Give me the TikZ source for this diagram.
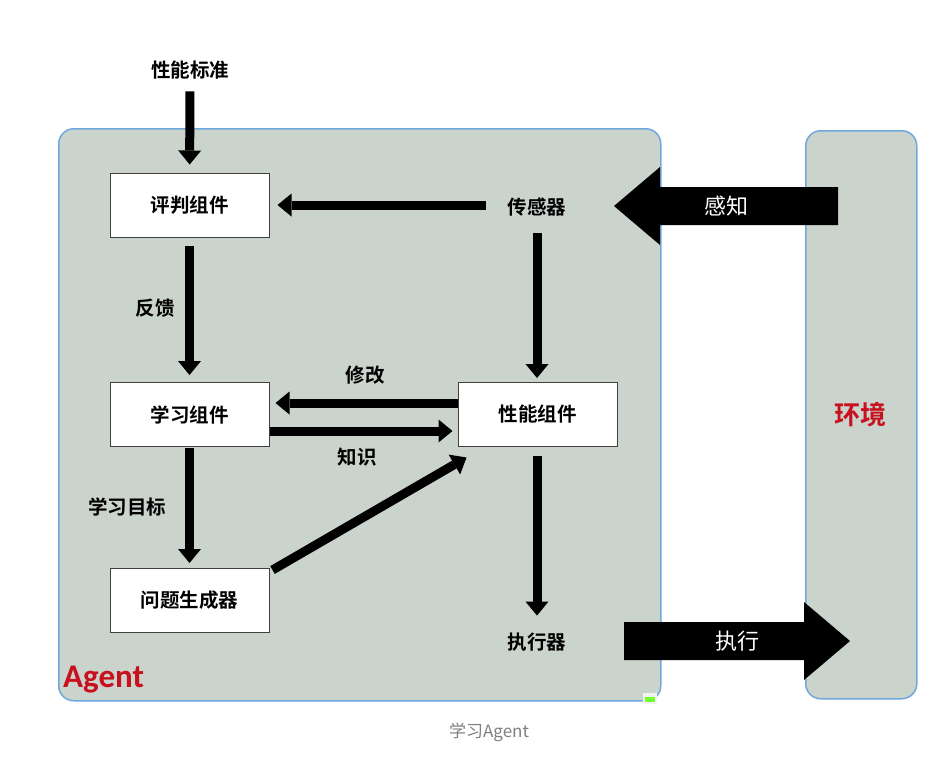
\documentclass[tikz,border=0pt]{standalone}
\usepackage{fontspec}
\setmainfont{Noto Sans CJK SC}[BoldFont={Noto Sans CJK SC Bold}]
\newfontfamily\carlito{Carlito}
\usetikzlibrary{arrows.meta}
\definecolor{agentfill}{RGB}{203,211,205}
\definecolor{agentline}{RGB}{111,168,220}
\definecolor{envred}{RGB}{200,16,30}
\definecolor{capgray}{RGB}{128,128,128}
\begin{document}
\begin{tikzpicture}[x=1pt,y=-1pt,
  panel/.style={draw=agentline, line width=1.5pt, fill=agentfill, rounded corners=15pt, inner sep=0pt, anchor=north west},
  comp/.style={draw=black!75, line width=1pt, fill=white, minimum width=159pt, minimum height=64pt, inner sep=0pt, font=\fontsize{19.5pt}{21pt}\selectfont\bfseries},
  lbl/.style={inner sep=0pt, font=\fontsize{19.5pt}{21pt}\selectfont\bfseries},
  arr/.style={line width=9pt, -{Triangle[width=23pt,length=14pt,line width=0pt]}},
  bigarr/.style={fill=black}]
\useasboundingbox (0,0) rectangle (945,756);
\fill[white] (0,0) rectangle (945,756);
% panels
\node[panel, minimum width=602pt, minimum height=572pt] (agent) at (58,128) {};
\node[panel, minimum width=111pt, minimum height=568pt] (env) at (805,130) {};
% small icon
\fill[white!90!gray] (643,693) rectangle (657,704);
\fill[green!60!lime!80!white] (645,697) rectangle (655,702);
% components
\node[comp] (judge) at (189.5,205) {评判组件};
\node[comp] (learn) at (189.5,414.5) {学习组件};
\node[comp] (perf) at (537.5,414.5) {性能组件};
\node[comp] (prob) at (189.5,600.5) {问题生成器};
% labels
\node[lbl] (std) at (190,70) {性能标准};
\node[lbl] (sensor) at (537,207) {传感器};
\node[lbl] (act) at (537,642) {执行器};
\node[lbl] (fb) at (155,308) {反馈};
\node[lbl] (mod) at (365,375) {修改};
\node[lbl] (know) at (357,457) {知识};
\node[lbl] (goal) at (127,507) {学习目标};
% connectors
\draw[arr, shorten <=12pt, shorten >=8pt] (std) -- (judge);
\draw[arr, shorten <=22pt, shorten >=8pt] (sensor.west |- judge) -- (judge);
\draw[arr, shorten <=17pt, shorten >=4pt] (sensor) -- (sensor |- perf.north);
\draw[arr, shorten <=8pt, shorten >=7pt] (judge) -- (learn);
\draw[arr, shorten >=6pt] ([yshift=11.5pt]perf.west) -- ([yshift=11.5pt]learn.east);
\draw[arr, shorten >=5pt] ([yshift=-16.5pt]learn.east) -- ([yshift=-16.5pt]perf.west);
\draw[arr, shorten <=1pt, shorten >=5pt] (learn) -- (prob);
\draw[arr] ([xshift=3pt,yshift=-2pt]prob.north east) -- ([xshift=9pt,yshift=-10.5pt]perf.south west);
\draw[arr, shorten <=9pt, shorten >=17pt] (act |- perf.south) -- (act);
% big arrows
\fill[bigarr] (838,187) -- (660,187) -- (660,167) -- (614,206) -- (660,245) -- (660,225) -- (838,225) -- cycle;
\node[white, inner sep=0pt, font=\fontsize{22pt}{24pt}\selectfont] (perc) at (726,206) {感知};
\fill[bigarr] (624,622) -- (804,622) -- (804,602) -- (850,641) -- (804,680) -- (804,660) -- (624,660) -- cycle;
\node[white, inner sep=0pt, font=\fontsize{22pt}{24pt}\selectfont] (exec) at (737,641) {执行};
% titles
\node[envred, inner sep=0pt, font=\fontsize{26pt}{28pt}\selectfont\bfseries] (envlbl) at (860,415) {环境};
\node[envred, inner sep=0pt, anchor=west, font=\carlito\fontsize{33pt}{35pt}\selectfont\bfseries] (agentlbl) at (63,680) {Agent};
\node[capgray, inner sep=0pt, font=\fontsize{17pt}{19pt}\selectfont] (cap) at (489,732) {学习Agent};
\end{tikzpicture}
\end{document}
